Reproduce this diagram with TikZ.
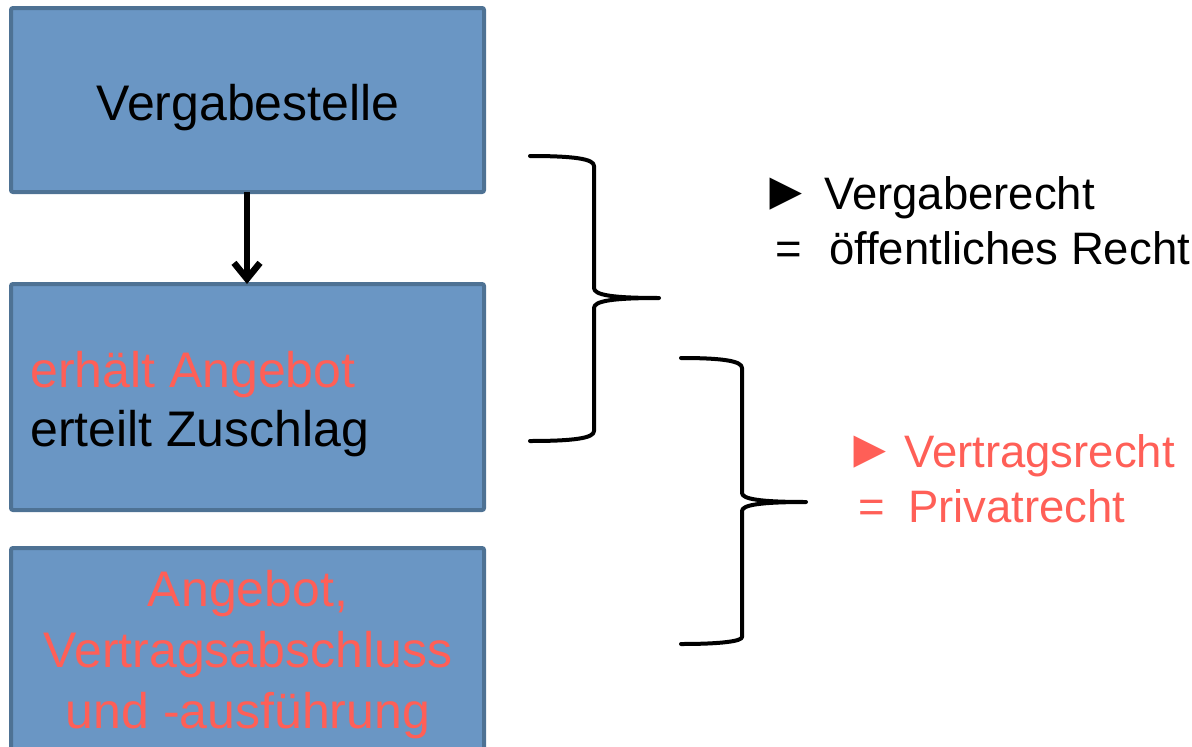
\documentclass[tikz,border=0pt]{standalone}
\usepackage{fontspec}
\setmainfont{Liberation Sans}
\usetikzlibrary{arrows.meta}
\definecolor{boxfill}{HTML}{6A96C4}
\definecolor{boxline}{HTML}{4E7294}
\definecolor{salmon}{HTML}{FF5F57}
\newcommand{\bigtri}{\hspace*{-7pt}\raisebox{-0.5pt}{\fontsize{54}{54}\selectfont ►}}
\tikzset{
  blockbox/.style={draw=boxline, fill=boxfill, line width=4pt, rounded corners=2pt},
  bigtext/.style={inner sep=0pt, font=\fontsize{50}{59}\selectfont},
  sidetext/.style={inner sep=0pt, anchor=base west, font=\fontsize{45.5}{55}\selectfont},
  bracepath/.style={line width=4pt, line cap=round, line join=round},
}
\begin{document}
\begin{tikzpicture}[x=1pt,y=-1pt]
\useasboundingbox (0,0) rectangle (1192,747);
\clip (0,0) rectangle (1192,747);
% boxes
\draw[blockbox] (11,8) rectangle (484,192);
\draw[blockbox] (11,284) rectangle (484,510);
\draw[blockbox] (11,548) rectangle (484,770);
\coordinate (b1s) at (247,192);
\coordinate (b2n) at (247,284);
\node[bigtext, anchor=base] (t1) at (248,120) {Vergabestelle};
\node[bigtext, anchor=base west, align=left] (t2) at (30,446)
  {\textcolor{salmon}{erhält Angebot}\\erteilt Zuschlag};
\node[bigtext, anchor=base, align=center, text=salmon,
  font=\fontsize{50}{61}\selectfont] (t3) at (248,728)
  {Angebot,\\Vertragsabschluss\\und -ausführung};
% arrow
\draw[line width=6.5pt, -{Straight Barb[length=16pt,width=26pt]}] (b1s) -- (b2n);
% brace 1
\draw[bracepath] (530,156) .. controls (575,156) and (594,159) .. (594,166)
  -- (594,288) .. controls (594,295) and (612,298) .. (659,298)
  .. controls (612,298) and (594,301) .. (594,308)
  -- (594,431) .. controls (594,438) and (575,441) .. (530,441);
% brace 2
\draw[bracepath] (681,358) .. controls (723,358) and (742,361) .. (742,368)
  -- (742,493) .. controls (742,499) and (760,502) .. (806,502)
  .. controls (760,502) and (742,505) .. (742,511)
  -- (742,637) .. controls (742,641) and (723,644) .. (681,644);
% right texts
\node[sidetext] (r1) at (766,209) {\makebox[58pt][l]{\bigtri}Vergaberecht};
\node[sidetext] (r2) at (775,264) {\makebox[54pt][l]{=}öffentliches Recht};
\node[sidetext, text=salmon] (r3) at (850,467) {\makebox[54pt][l]{\bigtri}Vertragsrecht};
\node[sidetext, text=salmon] (r4) at (858,522) {\makebox[50pt][l]{=}Privatrecht};
\end{tikzpicture}
\end{document}
